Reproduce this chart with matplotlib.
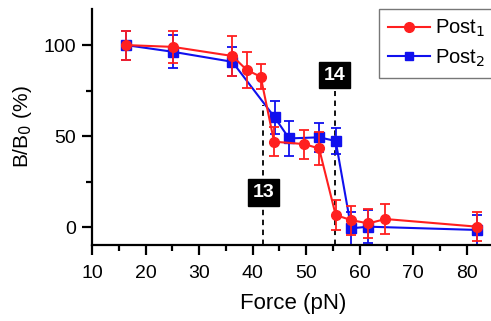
import matplotlib
matplotlib.use("Agg")
import matplotlib.pyplot as plt
from matplotlib.ticker import MultipleLocator
from matplotlib.lines import Line2D

plt.rcParams['font.family'] = ['Liberation Sans', 'DejaVu Sans']

# Data
post1_x = [16.3, 25.1, 36.2, 38.9, 41.5, 44.0, 49.6, 52.4, 55.5, 58.4, 61.6, 64.8, 81.9]
post1_y = [100, 99, 94, 86.3, 82.6, 46.9, 45.6, 43.2, 6.6, 3.8, 2.0, 4.4, 0.2]
post1_err = [8, 9, 11, 10, 7, 8, 8, 9, 8, 8, 8, 8, 8]

post2_x = [16.3, 25.1, 36.2, 44.1, 46.8, 52.4, 55.5, 58.4, 61.6, 81.9]
post2_y = [100, 96.3, 90.8, 60.3, 48.7, 49.3, 47.3, -0.7, 0.2, -1.6]
post2_err = [8, 9, 8, 9, 9.5, 8, 7, 9, 9, 8]

marker_labels = ["13", "14"]
marker_x = [42.0, 55.3]
marker_line_top = [67, 75]
marker_label_y = [19.0, 83.5]

red = '#ff1f1f'
blue = '#1010ee'

fig = plt.figure(figsize=(4.91, 3.21), dpi=100)
ax = fig.add_axes([0.1874, 0.236, 0.818, 0.737])

for xv, top in zip(marker_x, marker_line_top):
    ax.plot([xv, xv], [-10, top], color='black', lw=1.3, ls=(0, (3, 2.5)), zorder=1)

ax.errorbar(post1_x, post1_y, yerr=post1_err, color=red, ecolor=red,
            marker='o', ms=7, lw=1.5, elinewidth=1.3, capsize=3.5, capthick=1.3,
            zorder=3)
ax.errorbar(post2_x, post2_y, yerr=post2_err, color=blue, ecolor=blue,
            marker='s', ms=7, lw=1.5, elinewidth=1.3, capsize=3.5, capthick=1.3,
            zorder=2)

for lab, xv, yv in zip(marker_labels, marker_x, marker_label_y):
    ax.text(xv, yv, lab, color='white', fontsize=14, fontweight='bold',
            ha='center', va='center', zorder=5,
            bbox=dict(boxstyle='square,pad=0.25', fc='black', ec='black'))

ax.set_xlim(10, 85)
ax.set_ylim(-10, 120)
ax.set_xticks([10, 20, 30, 40, 50, 60, 70, 80])
ax.xaxis.set_minor_locator(MultipleLocator(5))
ax.set_yticks([0, 50, 100])
ax.yaxis.set_minor_locator(MultipleLocator(25))

for s in ['top', 'right']:
    ax.spines[s].set_visible(False)
for s in ['left', 'bottom']:
    ax.spines[s].set_linewidth(1.6)
ax.tick_params(which='major', direction='out', length=7.5, width=1.6, labelsize=14,
               colors='black', pad=4)
ax.tick_params(axis='x', which='major', pad=7)
ax.tick_params(which='minor', direction='out', length=4.5, width=1.6)

ax.set_xlabel('Force (pN)', fontsize=16, labelpad=8)
ax.set_ylabel('B/B$_0$ (%)', fontsize=15, labelpad=7)

handles = [Line2D([], [], color=red, marker='o', ms=7, lw=1.5),
           Line2D([], [], color=blue, marker='s', ms=6, lw=1.5)]
leg = ax.legend(handles, ['Post$_1$', 'Post$_2$'], loc='upper left',
                bbox_to_anchor=(379 / 491, 1 - 9 / 321), bbox_transform=fig.transFigure,
                fontsize=14.5, frameon=True, fancybox=False, edgecolor='#555555',
                handlelength=2.1, borderpad=0.45, labelspacing=0.4, handletextpad=0.25,
                borderaxespad=0)
leg.get_frame().set_linewidth(1.0)

fig.savefig('out.png', dpi=100)
